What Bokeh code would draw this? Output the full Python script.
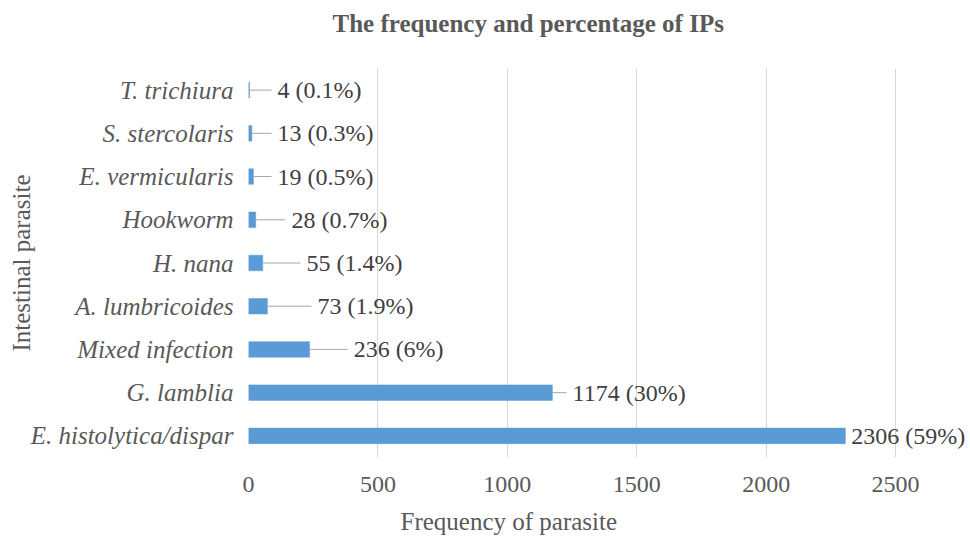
from bokeh.plotting import figure
from bokeh.models import (FactorRange, Range1d, FixedTicker, Title, LabelSet,
                          ColumnDataSource)
from bokeh.embed import file_html
from bokeh.resources import INLINE

# ---- data (bottom to top) ----
parasites = ["E. histolytica/dispar", "G. lamblia", "Mixed infection", "A. lumbricoides",
             "H. nana", "Hookworm", "E. vermicularis", "S. stercolaris", "T. trichiura"]
frequency = [2306, 1174, 236, 73, 55, 28, 19, 13, 4]
percent = ["59%", "30%", "6%", "1.9%", "1.4%", "0.7%", "0.5%", "0.3%", "0.1%"]
# where each leader line ends (data units), as placed in the original
leader_end = [2306, 1229, 383, 243, 201, 143, 89, 89, 89]
x_ticks = [0, 500, 1000, 1500, 2000, 2500]

FONT = "Liberation Serif"
TXT = "#595959"

labels = [f"{f} ({p})" for f, p in zip(frequency, percent)]
src = ColumnDataSource(dict(cat=parasites, val=frequency, end=leader_end, lab=labels))

p = figure(width=966, height=538, output_backend="svg", toolbar_location=None,
           y_range=FactorRange(factors=parasites, range_padding=0),
           x_range=Range1d(0, 2774),
           frame_width=718, frame_height=389,
           min_border_left=248, min_border_right=0, min_border_top=68, min_border_bottom=70)
p.outline_line_color = None
p.background_fill_color = "white"

p.hbar(y="cat", right="val", left=0, height=0.36, source=src,
       fill_color="#5B9BD5", line_color="#5B9BD5", line_width=0.5)
p.segment(x0="val", y0="cat", x1="end", y1="cat", source=src,
          line_color="#A6A6A6", line_width=1)
ls = LabelSet(x="end", y="cat", text="lab", source=src, x_offset=6,
              text_font=FONT, text_font_size="24px", text_color="#404040",
              text_baseline="middle", text_align="left")
p.add_layout(ls)

# axes
p.xaxis.ticker = FixedTicker(ticks=x_ticks)
p.xaxis.axis_line_color = None
p.xaxis.major_tick_line_color = None
p.xaxis.minor_tick_line_color = None
p.xaxis.major_label_text_font = FONT
p.xaxis.major_label_text_font_size = "24px"
p.xaxis.major_label_text_color = TXT
p.xaxis.major_label_standoff = 13

p.yaxis.axis_line_color = None
p.yaxis.major_tick_line_color = None
p.yaxis.minor_tick_line_color = None
p.yaxis.major_label_text_font = FONT
p.yaxis.major_label_text_font_style = "italic"
p.yaxis.major_label_text_font_size = "25px"
p.yaxis.major_label_text_color = TXT
p.yaxis.major_label_standoff = 9

p.xgrid.ticker = FixedTicker(ticks=x_ticks)
p.xgrid.grid_line_color = "#D9D9D9"
p.xgrid.grid_line_width = 1
p.ygrid.grid_line_color = None

# titles (spacers keep the titles at their places)
p.add_layout(Title(text=" ", text_font_size="2px", standoff=28), "above")
p.title = Title(text="The frequency and percentage of IPs", text_font=FONT,
                text_font_size="25px", text_font_style="bold", text_color=TXT,
                align="left", offset=84, standoff=0)
p.add_layout(Title(text=" ", text_font_size="2px", standoff=9), "below")
p.add_layout(Title(text="Frequency of parasite", text_font=FONT, text_font_size="25px",
                   text_font_style="normal", text_color=TXT, align="left", offset=152,
                   standoff=0, vertical_align="top"), "below")
p.add_layout(Title(text="Intestinal parasite", text_font=FONT, text_font_size="25px",
                   text_font_style="normal", text_color=TXT, align="center",
                   standoff=-14), "left")

open("out.html", "w").write(file_html(p, INLINE))
